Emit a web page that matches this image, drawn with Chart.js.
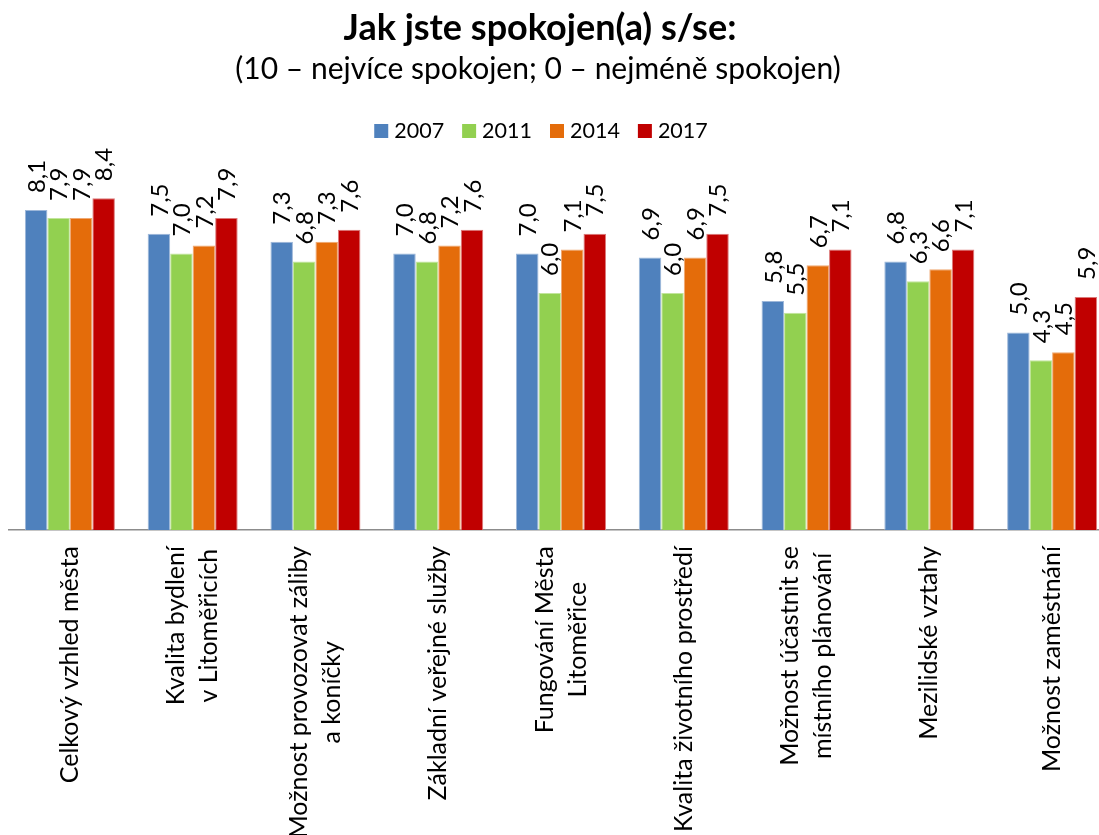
<!DOCTYPE html>
<html lang="cs">
<head>
<meta charset="utf-8">
<title>Jak jste spokojen(a) s/se</title>
<script src="https://cdn.jsdelivr.net/npm/chart.js@4.4.1/dist/chart.umd.min.js"></script>
<style>
  html, body { margin: 0; padding: 0; background: #fff; }
  #wrap { width: 1099px; height: 835px; overflow: hidden; }
  canvas { display: block; }
</style>
</head>
<body>
<div id="wrap"><canvas id="chart" width="1122" height="835"></canvas></div>
<script>
// --- data ---
const categories = [
    ['Celkový vzhled města'],
    ['Kvalita bydlení', 'v Litoměřicích'],
    ['Možnost provozovat záliby', 'a koníčky'],
    ['Základní veřejné služby'],
    ['Fungování Města', 'Litoměřice'],
    ['Kvalita životního prostředí'],
    ['Možnost účastnit se', 'místního plánování'],
    ['Mezilidské vztahy'],
    ['Možnost zaměstnání']
];
const years = ['2007', '2011', '2014', '2017'];
const values2007 = [8.1, 7.5, 7.3, 7.0, 7.0, 6.9, 5.8, 6.8, 5.0];
const values2011 = [7.9, 7.0, 6.8, 6.8, 6.0, 6.0, 5.5, 6.3, 4.3];
const values2014 = [7.9, 7.2, 7.3, 7.2, 7.1, 6.9, 6.7, 6.6, 4.5];
const values2017 = [8.4, 7.9, 7.6, 7.6, 7.5, 7.5, 7.1, 7.1, 5.9];
const scaleMin = 0;
const scaleMax = 10;

const titleText = 'Jak jste spokojen(a) s/se:';
const subtitleText = '(10 – nejvíce spokojen; 0 – nejméně spokojen)';

const barColors = ['#4F81BD', '#92D050', '#E46C0A', '#C00000'];
const edgeColors = ['#9DB7D9', '#C2E59C', '#F0A872', '#DC7A7A'];
const FONT = 'Lato, "Open Sans", sans-serif';

// rotated value labels above each bar
const valueLabels = {
    id: 'valueLabels',
    afterDatasetsDraw(chart) {
        const ctx = chart.ctx;
        ctx.save();
        ctx.font = `24px ${FONT}`;
        ctx.fillStyle = '#000';
        ctx.textAlign = 'left';
        ctx.textBaseline = 'middle';
        chart.data.datasets.forEach((ds, i) => {
            chart.getDatasetMeta(i).data.forEach((bar, j) => {
                ctx.save();
                ctx.translate(bar.x + 1, bar.y - 17);
                ctx.rotate(-Math.PI / 2);
                ctx.fillText(ds.data[j].toFixed(1).replace('.', ','), 0, 0);
                ctx.restore();
            });
        });
        ctx.restore();
    }
};

// vertical category labels, lines centred on each other
const axisLabels = {
    id: 'axisLabels',
    afterDraw(chart) {
        const ctx = chart.ctx;
        const xs = chart.scales.x;
        const top = chart.chartArea.bottom + 16;
        const lineH = 33;
        ctx.save();
        ctx.font = `25px ${FONT}`;
        ctx.fillStyle = '#000';
        ctx.textAlign = 'center';
        ctx.textBaseline = 'middle';
        categories.forEach((lines, i) => {
            const cx = xs.getPixelForValue(i);
            const maxW = Math.max(...lines.map(l => ctx.measureText(l).width));
            lines.forEach((line, k) => {
                ctx.save();
                ctx.translate(cx + (k - (lines.length - 1) / 2) * lineH, top + maxW / 2);
                ctx.rotate(-Math.PI / 2);
                ctx.fillText(line, 0, 0);
                ctx.restore();
            });
        });
        ctx.restore();
    }
};

// title, subtitle and legend row
const header = {
    id: 'header',
    afterDraw(chart) {
        const ctx = chart.ctx;
        ctx.save();
        ctx.fillStyle = '#000';
        ctx.textAlign = 'center';
        ctx.textBaseline = 'alphabetic';
        ctx.font = `bold 36px ${FONT}`;
        ctx.fillText(titleText, 540, 40);
        ctx.font = `30px ${FONT}`;
        ctx.fillText(subtitleText, 538, 79);

        ctx.font = `21.5px ${FONT}`;
        const box = 14, gap = 6, space = 18;
        const widths = chart.data.datasets.map(ds => ctx.measureText(ds.label).width);
        const total = widths.reduce((a, w) => a + box + gap + w, 0) + space * (widths.length - 1);
        let x = 541 - total / 2;
        ctx.textAlign = 'left';
        chart.data.datasets.forEach((ds, i) => {
            ctx.fillStyle = ds.backgroundColor;
            ctx.fillRect(x, 124, box, box);
            ctx.fillStyle = '#000';
            ctx.fillText(ds.label, x + box + gap, 138);
            x += box + gap + widths[i] + space;
        });
        ctx.restore();
    }
};

const series = [values2007, values2011, values2014, values2017];

new Chart(document.getElementById('chart'), {
    type: 'bar',
    data: {
        labels: categories.map(l => l.join(' ')),
        datasets: series.map((data, i) => ({
            label: years[i],
            data,
            backgroundColor: barColors[i],
            borderColor: edgeColors[i],
            borderWidth: 1,
            categoryPercentage: 0.733,
            barPercentage: 1
        }))
    },
    options: {
        responsive: false,
        animation: false,
        layout: { padding: { top: 135, bottom: 305, left: 8.5, right: 8.5 } },
        scales: {
            x: {
                grid: { display: false, drawTicks: false },
                ticks: { display: false },
                border: { display: true, color: '#8c8c8c', width: 1.5 }
            },
            y: { display: false, min: scaleMin, max: scaleMax }
        },
        plugins: {
            legend: { display: false },
            tooltip: { enabled: false }
        }
    },
    plugins: [valueLabels, axisLabels, header]
});
</script>
</body>
</html>
